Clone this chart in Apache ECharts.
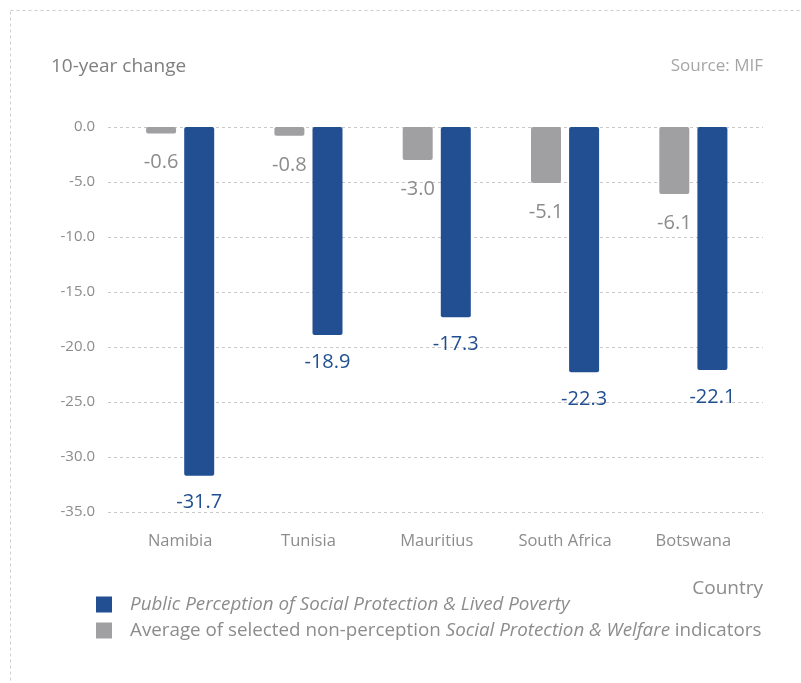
<!DOCTYPE html>
<html><head><meta charset="utf-8">
<script src="https://cdn.jsdelivr.net/npm/echarts@6/dist/echarts.min.js"></script>
<style>html,body{margin:0;padding:0;background:#fff}#c{width:801px;height:683px}</style>
</head><body><div id="c"></div>
<script>
const countries = ['Namibia', 'Tunisia', 'Mauritius', 'South Africa', 'Botswana'];
const nonPerception = [-0.6, -0.8, -3.0, -5.1, -6.1];
const perception = [-31.7, -18.9, -17.3, -22.3, -22.1];
const yTicks = { min: -35, max: 0, interval: 5 };

const FONT = 'Open Sans';
const chart = echarts.init(document.getElementById('c'), null, { renderer: 'canvas' });
chart.setOption({
  animation: false,
  textStyle: { fontFamily: FONT },
  graphic: [
    { type: 'rect', left: 8, top: 8, shape: { width: 900, height: 800 }, style: { fill: 'none', stroke: '#cdcdcd', lineWidth: 1, lineDash: [3, 3] }, silent: true },
    { type: 'text', left: 51, top: 57, style: { text: '10-year change', fill: '#7f7f7f', font: '19px "Open Sans"' } },
    { type: 'text', right: 38, top: 58, style: { text: 'Source: MIF', fill: '#a6a6a6', font: '17px "Open Sans"' } },
    { type: 'text', right: 38, top: 579, style: { text: 'Country', fill: '#8c8c8c', font: '19px "Open Sans"' } }
  ],
  grid: [
    { left: 116, right: 43.5, top: 127, bottom: 171 },
    { left: 108, right: 38, top: 127, bottom: 171 }
  ],
  xAxis: [
    { type: 'category', gridIndex: 0, data: countries, axisLine: { show: false }, axisTick: { show: false },
      axisLabel: { color: '#8c8c8c', fontSize: 16.5, margin: 21 } },
    { type: 'category', gridIndex: 1, data: countries, show: false }
  ],
  yAxis: [
    { type: 'value', gridIndex: 0, min: yTicks.min, max: yTicks.max, interval: yTicks.interval, show: false },
    { type: 'value', gridIndex: 1, min: yTicks.min, max: yTicks.max, interval: yTicks.interval,
      axisLine: { show: false }, axisTick: { show: false },
      axisLabel: { color: '#8c8c8c', fontSize: 15, margin: 13, formatter: v => v.toFixed(1) },
      splitLine: { lineStyle: { color: '#c8c8c8', type: [3, 3], width: 1 } } }
  ],
  legend: {
    orient: 'vertical', left: 96, top: 595, padding: 0, itemWidth: 16, itemHeight: 16, itemGap: 7,
    icon: 'rect', selectedMode: false,
    data: ['perception', 'nonPerception'],
    formatter: n => n === 'perception'
      ? '{i|Public Perception of Social Protection & Lived Poverty}'
      : 'Average of selected non-perception {i|Social Protection & Welfare} indicators',
    textStyle: { color: '#8c8c8c', fontSize: 18.8, lineHeight: 16, padding: [0, 0, 0, 13],
      rich: { i: { fontStyle: 'italic', color: '#8c8c8c', fontSize: 18.8, lineHeight: 16 } } }
  },
  series: [
    { name: 'nonPerception', type: 'bar', data: nonPerception, barWidth: 30, barGap: '27%',
      itemStyle: { color: '#a0a0a3', borderRadius: 2 },
      label: { show: true, position: 'bottom', distance: 19, color: '#8c8c8c', fontSize: 20, formatter: p => p.value.toFixed(1) } },
    { name: 'perception', type: 'bar', data: perception, barWidth: 30,
      itemStyle: { color: '#214f91', borderRadius: 2 },
      label: { show: true, position: 'bottom', distance: 17, color: '#214f91', fontSize: 20, formatter: p => p.value.toFixed(1) } }
  ]
});
</script></body></html>
